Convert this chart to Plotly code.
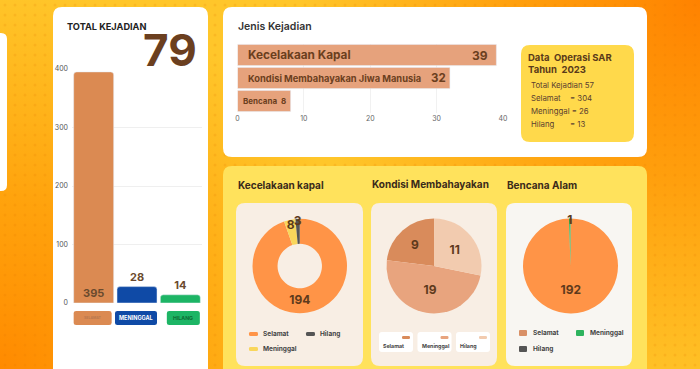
import base64
import plotly.graph_objects as go

# ---------------- data ----------------
status_labels = ["SELAMAT", "MENINGGAL", "HILANG"]
status_values = [395, 28, 14]
total_kejadian = 79

jenis_labels = ["Kecelakaan Kapal", "Kondisi Membahayakan Jiwa Manusia", "Bencana"]
jenis_values = [39, 32, 8]

info_title = ["Data  Operasi SAR", "Tahun  2023"]
info_total = 57
info_names = ["Selamat", "Meninggal", "Hilang"]
info_values = [304, 26, 13]

pie_labels = ["Selamat", "Meninggal", "Hilang"]
kapal_values = [194, 8, 3]
kondisi_values = [9, 19, 11]
bencana_values = [192, 1, 0]

# ---------------- styles ----------------
W, H = 700, 369
FONT = "Inter, Open Sans, DejaVu Sans, sans-serif"
BROWN = "#5E3A1C"
status_colors = ["#DB8A52", "#0F4AA6", "#1DB565"]
jenis_color = "#E6A27C"
kapal_colors = ["#FF9447", "#F9D65B", "#555555"]
kondisi_colors = ["#D98B5B", "#E8A47E", "#F2CBAF"]
bencana_colors = ["#FF9447", "#2EB35E", "#555555"]


def X(px):
    return px / W


def Y(py):
    return 1 - py / H


def rrect(x0, y0, x1, y1, r):
    rx, ry = r, r
    pts = [
        ("M", [(x0 + rx, y0)]), ("L", [(x1 - rx, y0)]), ("Q", [(x1, y0), (x1, y0 + ry)]),
        ("L", [(x1, y1 - ry)]), ("Q", [(x1, y1), (x1 - rx, y1)]), ("L", [(x0 + rx, y1)]),
        ("Q", [(x0, y1), (x0, y1 - ry)]), ("L", [(x0, y0 + ry)]), ("Q", [(x0, y0), (x0 + rx, y0)]),
    ]
    s = ""
    for cmd, ps in pts:
        s += cmd + " ".join(f"{X(a):.5f},{Y(b):.5f}" for a, b in ps) + " "
    return s + "Z"


shapes = []


def card(x0, y0, x1, y1, r, color):
    shapes.append(dict(type="path", path=rrect(x0, y0, x1, y1, r), xref="paper", yref="paper",
                       fillcolor=color, line=dict(width=0), layer="below"))


annotations = []


def text(x, y, s, size, color="#333333", weight="normal", xanchor="left"):
    annotations.append(dict(x=X(x), y=Y(y), xref="paper", yref="paper", text=s, showarrow=False,
                            xanchor=xanchor, yanchor="middle",
                            font=dict(family=FONT, size=size, color=color, weight=weight)))


# ---------------- background ----------------
svg = f"""<svg xmlns='http://www.w3.org/2000/svg' width='{W}' height='{H}' viewBox='0 0 {W} {H}' preserveAspectRatio='none'>
<defs>
<radialGradient id='a' cx='700' cy='0' r='400' gradientUnits='userSpaceOnUse'>
<stop offset='0' stop-color='#FF8200' stop-opacity='1'/><stop offset='0.45' stop-color='#FF8E00' stop-opacity='0.7'/><stop offset='1' stop-color='#FF9000' stop-opacity='0'/></radialGradient>
<radialGradient id='b' cx='0' cy='369' r='380' gradientUnits='userSpaceOnUse'>
<stop offset='0' stop-color='#FF8A00' stop-opacity='1'/><stop offset='0.45' stop-color='#FF9400' stop-opacity='0.7'/><stop offset='1' stop-color='#FF9800' stop-opacity='0'/></radialGradient>
<pattern id='p' width='10' height='10' patternUnits='userSpaceOnUse'>
<circle cx='5' cy='5' r='1.5' fill='#E07000' fill-opacity='0.16'/></pattern>
</defs>
<rect width='{W}' height='{H}' fill='#FFC62A'/>
<rect width='{W}' height='{H}' fill='url(#a)'/>
<rect width='{W}' height='{H}' fill='url(#b)'/>
<rect width='{W}' height='{H}' fill='url(#p)'/>
</svg>"""
bg_src = "data:image/svg+xml;base64," + base64.b64encode(svg.encode()).decode()

# cards
card(-12, 33, 7, 191, 6, "white")
card(53, 7, 208, 385, 9, "white")
card(223, 7, 647, 157, 9, "white")
card(521, 45, 634, 142, 9, "#FFD94B")
card(223, 166, 647, 385, 9, "#FFE25C")
card(236, 203, 363, 366, 9, "#F8EEE4")
card(371, 203, 497, 366, 9, "#F8EEE4")
card(506, 203, 632, 366, 9, "#F8F6F2")

fig = go.Figure()

# ---------------- left: total bar chart ----------------
LX0, LX1, LY0, LY1 = 72, 202, 303, 69
fig.add_trace(go.Bar(
    x=status_labels, y=status_values, marker=dict(color=status_colors, cornerradius=3),
    text=status_values, texttemplate="%{y}",
    textposition=["inside", "outside", "outside"], insidetextanchor="start",
    textfont=dict(family=FONT, size=11, color="#6B4A2E", weight="bold"),
    constraintext="none", cliponaxis=False, xaxis="x", yaxis="y", showlegend=False,
    hoverinfo="skip"))

text(65, 27, "TOTAL KEJADIAN", 9.2, "#222222", "bold")
text(199, 50, str(total_kejadian), 44, "#6B3F1F", "bold", xanchor="right")

slot = (LX1 - LX0) / len(status_labels)
box_style = [("#DB8A52", "#B8784F", 3.5, 34), ("#0F4AA6", "white", 5.5, 38), ("#1DB565", "#0E6E36", 5.2, 29)]
for i, lab in enumerate(status_labels):
    cx = LX0 + (i + 0.5) * slot + (3 if i == 2 else -1)
    fill, tcol, tsize, bw = box_style[i]
    card(cx - bw / 2 - 2, 311, cx + bw / 2 + 2, 325, 2.5, fill)
    text(cx, 318, lab, tsize, tcol, "bold", xanchor="center")

# ---------------- top: jenis kejadian ----------------
HX0, HX1, HY0, HY1 = 237.5, 503, 112.5, 43.5
fig.add_trace(go.Bar(
    x=jenis_values, y=jenis_labels, orientation="h", marker=dict(color=jenis_color),
    xaxis="x2", yaxis="y2", showlegend=False, hoverinfo="skip"))
lab_sizes = [11.8, 9.3, 8]
val_sizes = [12, 11.5, 8]
lab_shift = [8, 8, 3]
val_shift = [-6, -2, -3]
for lab, v, s, vs, sh, vsh in zip(jenis_labels, jenis_values, lab_sizes, val_sizes, lab_shift, val_shift):
    annotations.append(dict(x=0, y=lab, xref="x2", yref="y2", text=lab, showarrow=False,
                            xanchor="left", xshift=sh, font=dict(family=FONT, size=s, color="#6B3F1E", weight="bold")))
    annotations.append(dict(x=v, y=lab, xref="x2", yref="y2", text=str(v), showarrow=False,
                            xanchor="right", xshift=vsh,
                            font=dict(family=FONT, size=vs, color="#6B3F1E", weight="bold")))

text(236, 27, "Jenis Kejadian", 10.5, "#333333", 600)

# info box
text(526, 58, info_title[0], 9.5, "#5A3A1A", "bold")
text(526, 69, info_title[1], 9.5, "#5A3A1A", "bold")
text(529, 85, f"Total Kejadian {info_total}", 7.8, "#5A4030")
info_y = [98, 111, 124]
info_eq_x = [568, 573, 568]
for n, v, yy, ex in zip(info_names, info_values, info_y, info_eq_x):
    if n == "Meninggal":
        text(529, yy, f"{n} = {v}", 7.8, "#5A4030")
    else:
        text(529, yy, n, 7.8, "#5A4030")
        text(ex, yy, f"= {v}", 7.8, "#5A4030")

# ---------------- bottom: pies ----------------
text(236, 185, "Kecelakaan kapal", 10, "#3A2A1A", "bold")
text(370, 185, "Kondisi Membahayakan", 10, "#3A2A1A", "bold")
text(505, 185, "Bencana Alam", 10, "#3A2A1A", "bold")

PY0, PY1 = 218.5, 313.5


def pie(values, colors, x0, x1, **kw):
    fig.add_trace(go.Pie(
        values=values, labels=pie_labels, sort=False,
        text=[str(v) if v else "" for v in values], textinfo="text", textposition="inside",
        insidetextorientation="horizontal", showlegend=False, hoverinfo="skip",
        textfont=dict(family=FONT, size=12, color=BROWN, weight="bold"),
        marker=dict(colors=colors, line=dict(width=0)),
        domain=dict(x=[X(x0), X(x1)], y=[Y(PY1), Y(PY0)]), **kw))


pie(kapal_values, kapal_colors, 252.5, 347, hole=0.47, direction="clockwise")
pie(kondisi_values, kondisi_colors, 386.5, 481.5, direction="counterclockwise", rotation=-83)
pie(bencana_values, bencana_colors, 523, 618, direction="clockwise")

# custom legends
leg_font = 6.5
leg1_pos = [(249, 334), (249, 349), (306, 334)]
for lab, col, (lx, ly) in zip(pie_labels, kapal_colors, leg1_pos):
    card(lx, ly - 2, lx + 9, ly + 2, 1.5, col)
    text(lx + 12, ly, lab, leg_font, "#444444", "bold")
leg2_x = [379, 417.5, 456]
for lab, col, bx in zip(pie_labels, kondisi_colors, leg2_x):
    card(bx, 332, bx + 34, 352, 3, "white")
    card(bx + 23, 336, bx + 31, 339, 1.2, col)
    text(bx + 2, 346, lab, 5.3, "#444444", "bold")
leg3_pos = [(519, 333), (576, 333), (519, 349)]
leg3_cols = ["#D99066", bencana_colors[1], bencana_colors[2]]
for lab, col, (lx, ly) in zip(pie_labels, leg3_cols, leg3_pos):
    card(lx, ly - 3, lx + 8, ly + 3, 1, col)
    text(lx + 12, ly, lab, leg_font, "#444444", "bold")

fig.update_layout(
    width=W, height=H, autosize=False,
    margin=dict(l=0, r=0, t=0, b=0, pad=0),
    paper_bgcolor="#FFB822", plot_bgcolor="rgba(0,0,0,0)",
    font=dict(family=FONT),
    bargap=0.077,
    uniformtext=dict(minsize=11, mode="show"),
    images=[dict(source=bg_src, xref="paper", yref="paper", x=0, y=1, sizex=1, sizey=1,
                 sizing="stretch", xanchor="left", yanchor="top", layer="below")],
    shapes=shapes,
    annotations=annotations,
    xaxis=dict(domain=[X(LX0), X(LX1)], showticklabels=False, showgrid=False, zeroline=False,
               showline=False, fixedrange=True, automargin=False),
    yaxis=dict(domain=[Y(LY0), Y(LY1)], range=[0, 400], tickvals=[0, 100, 200, 300, 400],
               tickfont=dict(size=7, color="#555555", family=FONT), gridcolor="#EFEFEF", gridwidth=1,
               zeroline=False, showline=False, automargin=False, ticklabelstandoff=3),
    xaxis2=dict(domain=[X(HX0), X(HX1)], range=[0, 40], tickvals=[0, 10, 20, 30, 40],
                tickfont=dict(size=7, color="#666666", family=FONT), gridcolor="#F1F1F1",
                zeroline=False, showline=False, automargin=False, anchor="y2"),
    yaxis2=dict(domain=[Y(HY0), Y(HY1)], autorange="reversed", showticklabels=False, showgrid=False,
                zeroline=False, showline=False, automargin=False, anchor="x2",
                categoryorder="array", categoryarray=jenis_labels),
)
fig.write_html("out.html", config={"displayModeBar": False},
               post_script="document.body.style.margin='0';")
